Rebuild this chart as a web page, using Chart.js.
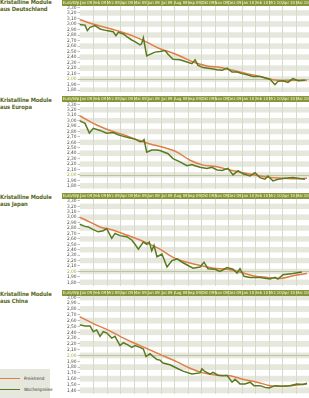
<!DOCTYPE html>
<html>
<head>
<meta charset="utf-8">
<script src="https://cdn.jsdelivr.net/npm/chart.js@4.4.1/dist/chart.umd.min.js"></script>
<style>
  html, body { margin: 0; padding: 0; background: #ffffff; }
  body { width: 309px; height: 398px; position: relative; overflow: hidden;
         font-family: 'Liberation Sans Narrow', 'DejaVu Sans Condensed', Roboto, sans-serif; }
  canvas { position: absolute; left: 62px; }
  .title { position: absolute; left: 0; font-weight: bold; font-size: 5.8px; line-height: 7px;
           color: #56671c; white-space: nowrap; z-index: 2; letter-spacing: -0.1px; }
  .unit { position: absolute; left: 62px; width: 18px; height: 6px; font-size: 4.3px; line-height: 6px;
          color: #fbf8e6; text-align: center; z-index: 2; white-space: nowrap; }
  .legend { position: absolute; left: 0; top: 369px; width: 50px; height: 29px; background: #e6e7dd; z-index: 2; }
  .legend .ln { position: absolute; left: 0; width: 20px; height: 1.6px; }
  .legend .lb { position: absolute; left: 24px; font-size: 4.5px; line-height: 5px; color: #3a3a30; white-space: nowrap; }
</style>
</head>
<body>
<div class="title" style="top:-1px">Kristalline Module<br>aus Deutschland</div>
<div class="title" style="top:96.5px">Kristalline Module<br>aus Europa</div>
<div class="title" style="top:193.5px">Kristalline Module<br>aus Japan</div>
<div class="title" style="top:290.5px">Kristalline Module<br>aus China</div>

<div class="unit" style="top:0px">Euro/Wp</div>
<div class="unit" style="top:96px">Euro/Wp</div>
<div class="unit" style="top:193px">Euro/Wp</div>
<div class="unit" style="top:290px">Euro/Wp</div>

<canvas id="c1" width="247" height="96" style="top:0px"></canvas>
<canvas id="c2" width="247" height="97" style="top:96px"></canvas>
<canvas id="c3" width="247" height="97" style="top:193px"></canvas>
<canvas id="c4" width="247" height="108" style="top:290px"></canvas>

<div class="legend">
  <div class="ln" style="top:8.5px;background:#e27d45"></div>
  <div class="lb" style="top:6.5px">Preistrend</div>
  <div class="ln" style="top:19.5px;background:#5a7a20"></div>
  <div class="lb" style="top:17.5px">Wochenpreise</div>
</div>

<script>
// ---- data ----
const months = ['Jan 09','Feb 09','Mrz 09','Apr 09','Mai 09','Jun 09','Jul 09','Aug 09','Sep 09',
                'Okt 09','Nov 09','Dez 09','Jan 10','Feb 10','Mrz 10','Apr 10','Mai 10'];
const yTicksHigh = [3.30,3.20,3.10,3.00,2.90,2.80,2.70,2.60,2.50,2.40,2.30,2.20,2.10,2.00,1.90,1.80];
const yTicksChina = [3.00,2.90,2.80,2.70,2.60,2.50,2.40,2.30,2.20,2.10,2.00,1.90,1.80,1.70,1.60,1.50,1.40];
const seriesNames = ['Preistrend','Wochenpreise'];

// [month position, Euro/Wp]
const deTrend = [[0,3.08],[1.27,2.98],[2.76,2.88],[3.99,2.78],[4.98,2.67],[5.96,2.55],[6.48,2.51],[7.44,2.42],
  [8.41,2.31],[9.44,2.24],[10.41,2.21],[11.37,2.16],[12.41,2.10],[13.37,2.05],[14.33,1.99],[15.07,1.97],[15.81,1.98],[16.85,1.98]];
const deWeekly = [[0,2.99],[0.41,2.98],[0.58,2.88],[0.78,2.94],[1.15,2.97],[1.52,2.91],[2.01,2.88],[2.5,2.86],[2.7,2.79],
  [2.87,2.85],[3.25,2.82],[3.5,2.77],[3.87,2.71],[4.11,2.68],[4.48,2.62],[4.6,2.64],[4.73,2.75],[4.98,2.42],[5.22,2.45],
  [5.59,2.49],[5.96,2.50],[6.33,2.52],[6.56,2.45],[6.93,2.36],[7.44,2.35],[7.96,2.31],[8.33,2.28],[8.56,2.35],[8.78,2.25],
  [9.15,2.21],[9.81,2.19],[10.19,2.17],[10.56,2.16],[10.93,2.20],[11.3,2.13],[11.67,2.13],[12.04,2.10],[12.41,2.08],
  [12.85,2.05],[13.37,2.05],[13.74,2.02],[14.11,2.00],[14.48,1.90],[14.7,1.96],[15.07,1.97],[15.44,1.94],[15.81,2.01],
  [16.19,1.97],[16.7,1.98]];

const euTrend = [[0,3.09],[1.27,2.92],[2.26,2.82],[3.25,2.74],[4.24,2.65],[5.22,2.57],[6.19,2.51],[7.22,2.42],[8.19,2.27],
  [9.15,2.18],[10.19,2.15],[11.15,2.09],[12.11,2.04],[13.15,1.99],[14.11,1.95],[15.07,1.94],[16.11,1.93],[16.85,1.94]];
const euWeekly = [[0,3.00],[0.41,2.95],[0.73,2.77],[1.02,2.86],[1.52,2.82],[2.01,2.77],[2.5,2.78],[2.87,2.74],[3.25,2.71],
  [3.74,2.68],[4.11,2.66],[4.48,2.61],[4.68,2.62],[4.78,2.65],[4.98,2.42],[5.35,2.46],[5.72,2.46],[5.96,2.45],[6.56,2.39],
  [6.93,2.30],[7.44,2.24],[7.96,2.17],[8.33,2.19],[8.56,2.17],[8.93,2.14],[9.44,2.12],[9.81,2.14],[10.19,2.09],[10.56,2.08],
  [11.0,2.12],[11.37,2.00],[11.74,2.08],[12.11,2.02],[12.63,1.98],[13.0,2.04],[13.37,1.95],[13.74,1.92],[13.96,1.98],
  [14.33,1.89],[14.7,1.92],[15.22,1.94],[15.81,1.95],[16.19,1.94],[16.7,1.92]];

const jpTrend = [[0,3.00],[0.78,2.91],[1.52,2.82],[2.5,2.76],[3.5,2.67],[4.48,2.58],[5.47,2.47],[5.96,2.41],[6.93,2.26],
  [7.96,2.17],[8.93,2.11],[9.89,2.06],[10.93,2.04],[11.89,1.99],[12.85,1.92],[13.89,1.89],[14.85,1.87],[15.81,1.92],[16.85,1.96]];
const jpWeekly = [[0,2.87],[0.41,2.83],[0.65,2.82],[1.02,2.77],[1.39,2.73],[1.76,2.75],[2.01,2.79],[2.39,2.61],[2.63,2.70],
  [3.0,2.66],[3.5,2.64],[3.87,2.58],[4.11,2.50],[4.36,2.41],[4.73,2.54],[4.98,2.50],[5.17,2.54],[5.35,2.38],[5.52,2.48],
  [5.74,2.27],[6.11,2.32],[6.48,2.08],[6.85,2.20],[7.22,2.23],[7.67,2.16],[8.41,2.06],[8.93,2.08],[9.22,2.17],[9.52,2.05],
  [10.04,2.04],[10.41,2.00],[10.7,2.04],[10.93,2.07],[11.37,2.04],[11.67,1.97],[11.89,2.05],[12.19,1.91],[12.63,1.89],
  [13.37,1.89],[14.11,1.86],[14.48,1.89],[14.7,1.86],[15.07,1.94],[15.81,1.96],[16.48,1.99]];

const cnTrend = [[0,2.67],[1.02,2.55],[2.01,2.45],[3.0,2.33],[3.99,2.22],[4.98,2.12],[5.96,2.02],[7.22,1.89],[8.19,1.78],
  [9.15,1.70],[10.19,1.66],[11.15,1.65],[12.11,1.59],[13.15,1.54],[14.11,1.48],[15.07,1.47],[16.11,1.49],[16.85,1.51]];
const cnWeekly = [[0,2.53],[0.41,2.51],[0.78,2.51],[1.02,2.41],[1.27,2.44],[1.52,2.33],[1.76,2.41],[2.01,2.39],[2.39,2.30],
  [2.63,2.33],[3.0,2.17],[3.25,2.22],[3.61,2.18],[3.87,2.14],[4.11,2.17],[4.48,2.14],[4.73,2.11],[4.93,1.98],[5.22,2.03],
  [5.47,1.98],[5.74,1.93],[5.96,1.92],[6.19,1.87],[6.7,1.84],[7.22,1.78],[7.67,1.73],[8.33,1.68],[8.93,1.70],[9.07,1.77],
  [9.3,1.72],[9.67,1.68],[9.89,1.71],[10.26,1.66],[10.63,1.65],[10.93,1.66],[11.3,1.54],[11.52,1.59],[11.89,1.51],
  [12.26,1.51],[12.63,1.54],[12.93,1.48],[13.37,1.48],[13.74,1.45],[14.04,1.44],[14.48,1.48],[15.0,1.47],[15.59,1.48],
  [16.11,1.51],[16.56,1.50],[16.85,1.52]];

// ---- styling ----
const ORANGE = '#e27d45';
const GREEN = '#5a7a20';
const HEADER = '#86973a';
const STRIPE = '#e6e8de';
const VLINE = '#d6dac9';
const FONT = "'Liberation Sans Narrow', 'DejaVu Sans Condensed', Roboto, sans-serif";

const bgPlugin = {
  id: 'bg',
  beforeDraw(chart) {
    const { ctx, chartArea: a, scales: { x, y } } = chart;
    ctx.save();
    ctx.fillStyle = HEADER;
    ctx.fillRect(0, 0, chart.width, a.top);
    ctx.strokeStyle = 'rgba(255,255,240,0.35)';
    ctx.lineWidth = 0.6;
    for (let i = 0; i <= months.length; i++) {
      const px = Math.round(x.getPixelForValue(i)) + 0.5;
      ctx.beginPath(); ctx.moveTo(px, 0.5); ctx.lineTo(px, a.top - 0.5); ctx.stroke();
    }
    ctx.beginPath(); ctx.rect(a.left, a.top, a.right - a.left, a.bottom - a.top); ctx.clip();
    ctx.fillStyle = STRIPE;
    y.ticks.forEach(t => {
      if (Math.round(t.value * 10) % 2 === 0) {
        const y0 = y.getPixelForValue(t.value + 0.05), y1 = y.getPixelForValue(t.value - 0.05);
        ctx.fillRect(a.left, y0, a.right - a.left, y1 - y0);
      }
    });
    ctx.strokeStyle = VLINE; ctx.lineWidth = 1;
    for (let i = 1; i < months.length; i++) {
      const px = Math.round(x.getPixelForValue(i)) + 0.5;
      ctx.beginPath(); ctx.moveTo(px, a.top); ctx.lineTo(px, a.bottom); ctx.stroke();
    }
    const p2 = Math.round(y.getPixelForValue(2.0)) + 0.5;
    ctx.strokeStyle = '#bcc39d'; ctx.lineWidth = 1;
    ctx.beginPath(); ctx.moveTo(a.left, p2); ctx.lineTo(a.right, p2); ctx.stroke();
    ctx.restore();
  },
  afterDraw(chart) {
    const { ctx, chartArea: a, scales: { x } } = chart;
    ctx.save();
    ctx.fillStyle = '#fbf8e6';
    ctx.font = '4.2px ' + FONT;
    ctx.textAlign = 'center';
    ctx.textBaseline = 'middle';
    months.forEach((m, i) => ctx.fillText(m, x.getPixelForValue(i + 0.5), a.top / 2 + 0.3));
    ctx.restore();
  }
};

function pts(arr) { return arr.map(([m, v]) => ({ x: m, y: v })); }

function makePanel(id, trend, weekly, ticks, yMin, yMax) {
  new Chart(document.getElementById(id), {
    type: 'line',
    data: {
      datasets: [
        { label: seriesNames[1], data: pts(weekly), borderColor: GREEN, borderWidth: 1.5,
          pointRadius: 0, tension: 0, fill: false },
        { label: seriesNames[0], data: pts(trend), borderColor: ORANGE, borderWidth: 1.5,
          pointRadius: 0, cubicInterpolationMode: 'monotone', fill: false }
      ]
    },
    options: {
      responsive: false, animation: false, devicePixelRatio: 1,
      layout: { padding: 0, autoPadding: false },
      plugins: { legend: { display: false }, tooltip: { enabled: false } },
      scales: {
        x: {
          type: 'linear', position: 'top', min: 0, max: months.length,
          afterBuildTicks: s => { s.ticks = months.map((_, i) => ({ value: i + 0.5 })); },
          afterFit: s => { s.height = 6; },
          grid: { display: false }, border: { display: false },
          ticks: { display: false, callback: (v, i) => months[i] }
        },
        y: {
          min: yMin, max: yMax,
          afterBuildTicks: s => { s.ticks = ticks.map(v => ({ value: v })); },
          afterFit: s => { s.width = 17.5; },
          grid: { drawOnChartArea: false, drawTicks: true, tickLength: 2, color: '#9a9a90', lineWidth: 0.6 },
          border: { display: false },
          ticks: { autoSkip: false, padding: 1, font: { size: 4.8, family: FONT },
                   color: c => (Math.abs(c.tick.value - 2) < 1e-6 ? '#a2ae3c' : '#4a4a44'),
                   callback: v => Number(v).toFixed(2).replace('.', ',') }
        }
      }
    },
    plugins: [bgPlugin]
  });
}

makePanel('c1', deTrend, deWeekly, yTicksHigh, 1.765, 3.326);
makePanel('c2', euTrend, euWeekly, yTicksHigh, 1.738, 3.344);
makePanel('c3', jpTrend, jpWeekly, yTicksHigh, 1.729, 3.335);
makePanel('c4', cnTrend, cnWeekly, yTicksChina, 1.334, 3.025);
</script>
</body>
</html>
